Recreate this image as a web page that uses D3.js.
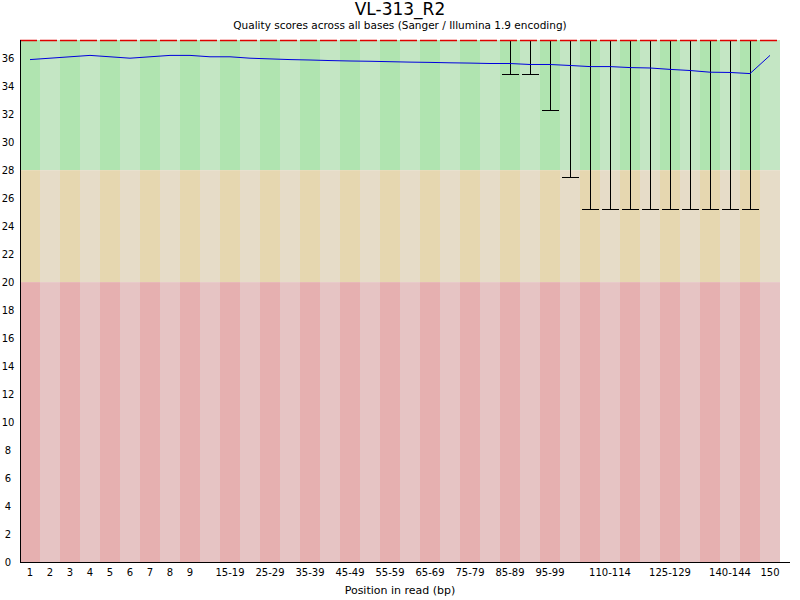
<!DOCTYPE html>
<html><head><meta charset="utf-8">
<script src="https://cdn.jsdelivr.net/npm/d3@7"></script>
<style>body{margin:0;background:#fff}text{font-family:"DejaVu Sans",sans-serif}</style>
</head><body>
<script>
// bins of the read
const positions = ["1","2","3","4","5","6","7","8","9","10-14","15-19","20-24","25-29","30-34","35-39","40-44","45-49","50-54","55-59","60-64","65-69","70-74","75-79","80-84","85-89","90-94","95-99","100-104","105-109","110-114","115-119","120-124","125-129","130-134","135-139","140-144","145-149","150"]
const shownLabels = ["1","2","3","4","5","6","7","8","9","15-19","25-29","35-39","45-49","55-59","65-69","75-79","85-89","95-99","110-114","125-129","140-144","150"]
const meanQ = [35.9,36.0,36.1,36.2,36.1,36.0,36.1,36.2,36.2,36.1,36.1,36.0,35.95,35.9,35.87,35.83,35.8,35.78,35.75,35.72,35.7,35.67,35.65,35.62,35.62,35.55,35.55,35.48,35.4,35.4,35.33,35.3,35.2,35.12,35.0,34.98,34.9,36.2]
// lower whisker (10th percentile); null where it sits at the top
const lowWhisker = [null,null,null,null,null,null,null,null,null,null,null,null,null,null,null,null,null,null,null,null,null,null,null,null,34.9,34.9,32.3,27.5,25.2,25.2,25.2,25.2,25.2,25.2,25.2,25.2,25.2,null]
const topQ = 37.3
const yTicks = d3.range(0, 38, 2)

const W = 800, H = 600, L = 20, T = 40, B = 562, R = 780
const svg = d3.select("body").append("svg").attr("width", W).attr("height", H)
const x = d3.scaleBand().domain(positions).range([L, R])
const y = d3.scaleLinear().domain([0, 37.3]).range([B, T])

const zones = [
  {lo: 28, hi: 37.3, c: ["#b0e4b0", "#c4e6c4"]},
  {lo: 20, hi: 28, c: ["#e6d7b0", "#e6dcc8"]},
  {lo: 0, hi: 20, c: ["#e6b0b0", "#e6c4c4"]}
]
zones.forEach(z => {
  svg.append("g").selectAll("rect").data(positions).enter().append("rect")
    .attr("x", d => x(d)).attr("width", x.bandwidth())
    .attr("y", y(z.hi)).attr("height", y(z.lo) - y(z.hi))
    .attr("fill", (d, i) => z.c[i % 2])
})

// whiskers
const wk = positions.map((p, i) => ({p: p, lo: lowWhisker[i]})).filter(d => d.lo != null)
const wg = svg.append("g").attr("stroke", "#000").attr("stroke-width", 1)
wg.selectAll(".v").data(wk).enter().append("line")
  .attr("x1", d => x(d.p) + 10.5).attr("x2", d => x(d.p) + 10.5)
  .attr("y1", y(topQ)).attr("y2", d => Math.round(y(d.lo)) + 0.5)
wg.selectAll(".c").data(wk).enter().append("line")
  .attr("x1", d => x(d.p) + 2).attr("x2", d => x(d.p) + 19)
  .attr("y1", d => Math.round(y(d.lo)) + 0.5).attr("y2", d => Math.round(y(d.lo)) + 0.5)

// red dashed top line
svg.append("line").attr("x1", L).attr("x2", R).attr("y1", T + 0.5).attr("y2", T + 0.5)
  .attr("stroke", "#e00000").attr("stroke-width", 1.5).attr("stroke-dasharray", "17,3")

// mean line
svg.append("path").datum(meanQ)
  .attr("d", d3.line().x((d, i) => x(positions[i]) + x.bandwidth() / 2).y(d => y(d)))
  .attr("fill", "none").attr("stroke", "#0000dd").attr("stroke-width", 1)

// axes
svg.append("line").attr("x1", L + 0.5).attr("x2", L + 0.5).attr("y1", T).attr("y2", B).attr("stroke", "#000")
svg.append("line").attr("x1", L).attr("x2", R + 10).attr("y1", B + 0.5).attr("y2", B + 0.5).attr("stroke", "#000")
svg.append("g").selectAll("text").data(yTicks).enter().append("text")
  .attr("x", 8).attr("y", d => y(d) + 4).attr("text-anchor", "middle")
  .attr("font-size", 10).text(d => d)
svg.append("g").selectAll("text").data(shownLabels).enter().append("text")
  .attr("x", d => x(d) + x.bandwidth() / 2).attr("y", 576).attr("text-anchor", "middle")
  .attr("font-size", 10).text(d => d)

svg.append("text").attr("x", 400).attr("y", 15).attr("text-anchor", "middle")
  .attr("font-family", "Liberation Sans").attr("font-size", 17).text("VL-313_R2")
svg.append("text").attr("x", 400).attr("y", 29).attr("text-anchor", "middle")
  .attr("font-size", 10.5).text("Quality scores across all bases (Sanger / Illumina 1.9 encoding)")
svg.append("text").attr("x", 400).attr("y", 594).attr("text-anchor", "middle")
  .attr("font-size", 11).text("Position in read (bp)")
</script>
</body></html>
